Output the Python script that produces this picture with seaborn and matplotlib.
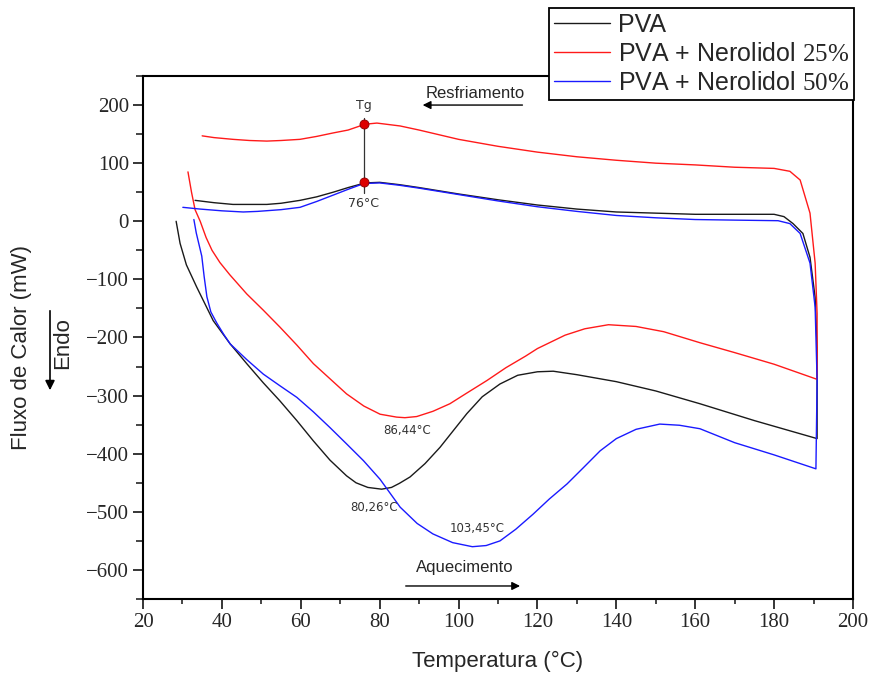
import numpy as np
import pandas as pd
import matplotlib
matplotlib.use("Agg")
import matplotlib.pyplot as plt
import seaborn as sns
from matplotlib.ticker import MultipleLocator

# ---------------- data ----------------
series_labels = ["PVA", "PVA + Nerolidol $\\mathrm{25\\%}$", "PVA + Nerolidol $\\mathrm{50\\%}$"]
series_colors = ["#1a1a1a", "#ff1a1a", "#1a1aff"]

# PVA : heating run then cooling run
pva_T = [28.4, 29.4, 31.0, 33.6, 37.8, 42.1, 46.3, 50.5, 54.7, 59.0, 63.2, 67.4, 71.6, 74.0, 77.0,
         80.5, 83.0, 85.0, 87.7, 91.5, 95.3, 98.7, 102.1, 106.0, 110.5, 115.0, 120.0, 124.0, 130.0,
         140.0, 150.0, 161.2, 175.0, 190.9,
         190.9, 190.4, 189.1, 187.3, 184.8, 182.5, 180.0, 170.0, 160.0, 150.0, 140.0, 130.0, 120.0,
         110.0, 100.0, 90.0, 85.0, 80.0, 76.3, 72.0, 68.2, 64.0, 59.8, 55.0, 51.4, 47.0, 42.8, 38.0, 33.2]
pva_F = [0, -38, -75, -113, -171, -211, -245, -278, -309, -343, -378, -411, -438, -450, -458,
         -461, -458, -451, -440, -417, -389, -360, -331, -302, -280, -265, -259, -258, -264,
         -276, -292, -314, -343, -374,
         -217, -131, -62, -21, -4, 8, 12, 12, 12, 14, 16, 21, 28,
         37, 47, 58, 63, 67, 66, 58, 50, 42, 36, 31, 29, 29, 29, 32, 36]

ner25_T = [31.4, 32.3, 33.2, 34.5, 36.0, 37.5, 39.5, 42.0, 46.3, 50.5, 54.7, 59.0, 63.2, 67.4, 71.6,
           76.0, 80.1, 84.3, 86.4, 89.4, 93.5, 97.8, 102.0, 107.2, 112.0, 117.0, 120.0, 127.0, 132.0,
           138.0, 145.0, 152.0, 161.2, 170.0, 180.0, 190.9,
           190.9, 190.4, 189.1, 186.6, 184.0, 180.0, 170.0, 160.0, 150.0, 140.0, 130.0, 120.0, 110.0,
           100.0, 95.0, 90.0, 85.2, 79.3, 76.3, 72.0, 68.2, 64.0, 59.8, 55.0, 51.4, 47.0, 42.8, 38.0, 35.0]
ner25_F = [85, 50, 20, 0, -28, -50, -71, -92, -125, -153, -182, -213, -245, -271, -297,
           -318, -332, -337, -338, -336, -327, -314, -296, -274, -252, -232, -219, -196, -185,
           -178, -181, -190, -209, -226, -246, -272,
           -159, -72, 14, 71, 86, 91, 93, 97, 100, 105, 111, 119, 129,
           141, 149, 157, 164, 169, 167, 157, 152, 146, 141, 139, 138, 139, 141, 144, 147]

ner50_T = [32.9, 33.5, 34.2, 34.9, 35.5, 36.2, 37.2, 38.7, 40.5, 42.1, 46.3, 50.5, 54.7, 59.0, 63.2,
           67.4, 71.6, 75.9, 80.1, 85.2, 89.5, 93.5, 98.5, 103.5, 107.0, 110.5, 114.5, 118.9, 123.0,
           127.5, 131.5, 135.9, 140.0, 145.0, 151.0, 156.0, 161.2, 170.0, 180.0, 190.6,
           190.9, 190.4, 189.1, 186.6, 184.0, 181.0, 170.0, 160.0, 150.0, 140.0, 130.0, 120.0, 110.0,
           100.0, 90.0, 85.0, 80.0, 76.0, 72.0, 68.2, 64.0, 59.8, 55.0, 53.0, 49.0, 45.4, 40.0, 34.5, 30.1]
ner50_F = [3, -20, -40, -60, -95, -130, -156, -175, -195, -211, -238, -263, -283, -303, -328,
           -355, -383, -412, -444, -492, -520, -538, -553, -560, -558, -550, -530, -504, -478,
           -452, -425, -395, -374, -358, -349, -351, -357, -381, -402, -426,
           -274, -148, -72, -21, -4, 1, 2, 3, 6, 10, 17, 25, 35,
           46, 57, 62, 66, 65, 55, 45, 34, 24, 20, 19, 17, 16, 18, 21, 24]

tg_temp = 76
tg_values = [167, 67]
peak_labels = ["86,44°C", "80,26°C", "103,45°C"]
peak_pos = [(86.9, -360), (78.6, -493), (104.7, -529)]

x_ticks = [20, 40, 60, 80, 100, 120, 140, 160, 180, 200]
y_ticks = [-600, -500, -400, -300, -200, -100, 0, 100, 200]

# ---------------- styling ----------------
sns.set_style("ticks")
plt.rcParams["font.family"] = ["Liberation Sans", "DejaVu Sans"]
plt.rcParams["mathtext.fontset"] = "custom"
plt.rcParams["mathtext.rm"] = "Liberation Serif"
plt.rcParams["axes.unicode_minus"] = True

fig = plt.figure(figsize=(8.72, 6.78), dpi=100)
W, H = 872, 678
ax = fig.add_axes([143 / W, 79 / H, 710 / W, 523 / H])

all_T = [pva_T, ner25_T, ner50_T]
all_F = [pva_F, ner25_F, ner50_F]
for T, F, lab, col in zip(all_T, all_F, series_labels, series_colors):
    df = pd.DataFrame({"Temperatura": T, "Fluxo": F})
    sns.lineplot(data=df, x="Temperatura", y="Fluxo", sort=False, estimator=None,
                 color=col, lw=1.0, ax=ax, label=lab)

# Tg marker
ax.plot([tg_temp, tg_temp], [178, 48], color="#333333", lw=0.9, zorder=3)
ax.plot([tg_temp] * len(tg_values), tg_values, "o", ms=6.5, color="#dd0000",
        mec="#880000", mew=0.6, zorder=4)
ax.text(tg_temp, 200, "Tg", ha="center", va="center", fontsize=9,
        family="DejaVu Sans", color="#333333")
ax.text(tg_temp, 31, "76°C", ha="center", va="center", fontsize=9,
        family="DejaVu Sans", color="#333333")
for lab, (px, py) in zip(peak_labels, peak_pos):
    ax.text(px, py, lab, ha="center", va="center", fontsize=8.5,
            family="DejaVu Sans", color="#333333")

# direction arrows
ax.text(104.2, 220, "Resfriamento", ha="center", va="center", fontsize=12)
ax.annotate("", xy=(90.2, 200), xytext=(116.9, 200),
            arrowprops=dict(arrowstyle="-|>", color="black", lw=1.0, mutation_scale=12))
ax.text(101.6, -596, "Aquecimento", ha="center", va="center", fontsize=12)
ax.annotate("", xy=(116.3, -627.6), xytext=(85.9, -627.6),
            arrowprops=dict(arrowstyle="-|>", color="black", lw=1.0, mutation_scale=12))

ax.set_xlim(20, 200)
ax.set_ylim(-650, 250)
ax.set_xticks(x_ticks)
ax.set_yticks(y_ticks)
ax.xaxis.set_minor_locator(MultipleLocator(10))
ax.yaxis.set_minor_locator(MultipleLocator(50))
for lab in ax.get_xticklabels() + ax.get_yticklabels():
    lab.set_family("Liberation Serif")
    lab.set_fontsize(15)
ax.tick_params(which="major", direction="out", length=7, width=1.3, pad=3,
               top=False, right=False)
ax.tick_params(axis="x", which="minor", direction="out", length=3.5, width=1.2)
ax.tick_params(axis="y", which="minor", direction="out", length=5, width=1.2)
for sp in ax.spines.values():
    sp.set_linewidth(1.5)
    sp.set_color("black")
    sp.set_visible(True)

ax.set_xlabel("Temperatura (°C)", fontsize=16, labelpad=14)
ax.set_ylabel("")
fig.text(22 / W, 1 - 348 / H, "Fluxo de Calor (mW)", rotation=90, ha="center",
         va="center", fontsize=16)
fig.text(63 / W, 1 - 343 / H, "Endo", rotation=90, ha="center", va="center", fontsize=16)
fig.patches.append(matplotlib.patches.FancyArrowPatch(
    (50 / W, 1 - 308 / H), (50 / W, 1 - 393 / H), transform=fig.transFigure,
    arrowstyle="-|>", mutation_scale=14, lw=1.2, color="black"))

leg = ax.legend(loc="upper right", bbox_to_anchor=(854 / W, 1 - 8 / H),
                bbox_transform=fig.transFigure, fontsize=18, frameon=True,
                fancybox=False, edgecolor="black", framealpha=1.0,
                handlelength=2.25, handletextpad=0.3, labelspacing=0.2,
                borderpad=0.2, borderaxespad=0)
leg.get_frame().set_linewidth(1.3)
for line in leg.get_lines():
    line.set_linewidth(1.0)
leg.set_zorder(10)
leg.set_clip_on(False)

fig.savefig("out.png", dpi=100)
